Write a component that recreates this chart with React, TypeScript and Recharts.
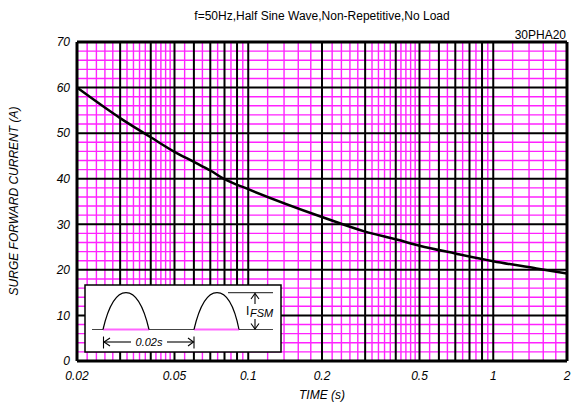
import { LineChart, Line, XAxis, YAxis, ReferenceLine } from "recharts";

// curve
const times = [0.02, 0.03, 0.04, 0.05, 0.06, 0.07, 0.08, 0.1, 0.2, 0.3, 0.4, 0.5, 0.7, 1, 1.5, 2];
const currents = [60, 53.3, 49.1, 45.9, 43.7, 41.8, 39.9, 37.7, 31.6, 28.4, 26.7, 25.3, 23.6, 21.9, 20.3, 19.2];

const xTicks = [0.02, 0.05, 0.1, 0.2, 0.5, 1, 2];
const yTicks = [0, 10, 20, 30, 40, 50, 60, 70];

// log paper grid
const xMajor = [0.03, 0.04, 0.05, 0.06, 0.07, 0.08, 0.09, 0.1, 0.2, 0.3, 0.4, 0.5, 0.6, 0.7, 0.8, 0.9, 1];
const xMinor = [
  0.022, 0.024, 0.026, 0.028, 0.032, 0.034, 0.036, 0.038, 0.042, 0.044, 0.046, 0.048,
  0.055, 0.065, 0.075, 0.085, 0.095,
  0.12, 0.14, 0.16, 0.18, 0.22, 0.24, 0.26, 0.28, 0.32, 0.34, 0.36, 0.38, 0.42, 0.44, 0.46, 0.48,
  0.55, 0.65, 0.75, 0.85, 0.95,
  1.2, 1.4, 1.6, 1.8,
];
const yMajor = [10, 20, 30, 40, 50, 60];
const yMinor = [2, 4, 6, 8, 12, 14, 16, 18, 22, 24, 26, 28, 32, 34, 36, 38, 42, 44, 46, 48, 52, 54, 56, 58, 62, 64, 66, 68];

const data = times.map((t, i) => ({ t, i: currents[i] }));

const font = "'Liberation Sans', Arial, sans-serif";
const MAG = "#ff22ff";

function Inset() {
  return (
    <svg
      width={572}
      height={405}
      style={{ position: "absolute", left: 0, top: 0, pointerEvents: "none" }}
      fontFamily={font}
    >
      <text x={322} y={20} fontSize={12} textAnchor="middle">
        f=50Hz,Half Sine Wave,Non-Repetitive,No Load
      </text>
      <text x={566} y={39} fontSize={12} textAnchor="end">
        30PHA20
      </text>
      <text
        x={18}
        y={201}
        fontSize={12}
        fontStyle="italic"
        textAnchor="middle"
        transform="rotate(-90 18 201)"
      >
        SURGE FORWARD CURRENT (A)
      </text>
      <text x={322} y={399} fontSize={12} fontStyle="italic" textAnchor="middle">
        TIME (s)
      </text>

      {/* waveform sketch */}
      <rect x={85} y={285} width={196} height={67} fill="#fff" stroke="#000" strokeWidth={1.5} />
      <line x1={92} y1={329.5} x2={273} y2={329.5} stroke="#444" strokeWidth={1.2} />
      <line x1={103} y1={329.5} x2={149} y2={329.5} stroke="#ff66ff" strokeWidth={2} />
      <line x1={194} y1={329.5} x2={239} y2={329.5} stroke="#ff66ff" strokeWidth={2} />
      <path d="M103,329.5 C110,300 118,292.7 126,292.7 C134,292.7 142,300 149,329.5" fill="none" stroke="#000" strokeWidth={1.2} />
      <path d="M194,329.5 C201,300 209,292.7 217,292.7 C225,292.7 233,300 239,329.5" fill="none" stroke="#000" strokeWidth={1.2} />
      <line x1={228} y1={292.7} x2={273} y2={292.7} stroke="#444" strokeWidth={1.2} />
      <g stroke="#000" strokeWidth={1.1} fill="none">
        <line x1={255} y1={293.5} x2={255} y2={304} />
        <polyline points="251,299 255,293.5 259,299" />
        <line x1={255} y1={319} x2={255} y2={329} />
        <polyline points="251,323.5 255,329 259,323.5" />
        <line x1={103.5} y1={336.5} x2={103.5} y2={348.5} />
        <line x1={194} y1={336.5} x2={194} y2={348.5} />
        <line x1={104} y1={342} x2={131} y2={342} />
        <polyline points="110,338 104,342 110,346" />
        <line x1={167} y1={342} x2={193.5} y2={342} />
        <polyline points="188,338 193.5,342 188,346" />
      </g>
      <text x={246} y={315} fontSize={12}>
        I
      </text>
      <text x={250} y={317} fontSize={11} fontStyle="italic">
        FSM
      </text>
      <text x={149} y={346} fontSize={11} fontStyle="italic" textAnchor="middle">
        0.02s
      </text>
    </svg>
  );
}

export default function App() {
  const tick = { fontSize: 12, fontStyle: "italic", fill: "#000", fontFamily: font };
  return (
    <div style={{ position: "absolute", left: 0, top: 0, width: 572, height: 405, background: "#fff" }}>
      <LineChart width={572} height={405} data={data} margin={{ top: 42, right: 5, bottom: 0, left: 0 }}>
        <XAxis
          dataKey="t"
          type="number"
          scale="log"
          domain={[0.02, 2]}
          ticks={xTicks}
          allowDataOverflow
          axisLine={false}
          tickLine={false}
          tickMargin={4}
          height={44}
          tick={tick}
        />
        <YAxis
          type="number"
          domain={[0, 70]}
          ticks={yTicks}
          axisLine={false}
          tickLine={false}
          tickMargin={1}
          width={77}
          tick={tick}
        />
        {xMinor.map((v) => (
          <ReferenceLine key={"xm" + v} x={v} stroke={MAG} strokeWidth={1.4} />
        ))}
        {yMinor.map((v) => (
          <ReferenceLine key={"ym" + v} y={v} stroke={MAG} strokeWidth={1.4} />
        ))}
        {xMajor.map((v) => (
          <ReferenceLine key={"xM" + v} x={v} stroke="#000" strokeWidth={2} />
        ))}
        {yMajor.map((v) => (
          <ReferenceLine key={"yM" + v} y={v} stroke="#000" strokeWidth={2} />
        ))}
        <ReferenceLine x={0.02} stroke="#000" strokeWidth={3} />
        <ReferenceLine x={2} stroke="#000" strokeWidth={3} />
        <ReferenceLine y={0} stroke="#000" strokeWidth={3} />
        <ReferenceLine y={70} stroke="#000" strokeWidth={3} />
        <Line
          dataKey="i"
          type="monotone"
          stroke="#000"
          strokeWidth={2.5}
          dot={false}
          isAnimationActive={false}
        />
      </LineChart>
      <Inset />
    </div>
  );
}
